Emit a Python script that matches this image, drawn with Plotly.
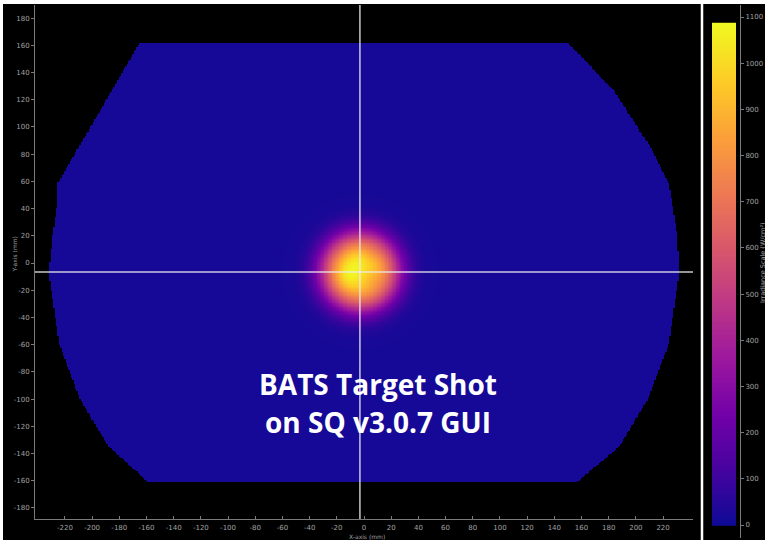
import numpy as np
import plotly.graph_objects as go

# ---------------- data ----------------
# boundary of the measured field (mm), clockwise from top-left
hull_x = [-165, 150, 185, 212, 224, 230, 232, 224, 209, 188, 157, -159, -188, -209, -224, -232, -231, -229, -226, -225]
hull_y = [162, 162, 125, 83, 59, 24, -7, -60, -100, -135, -161, -161, -135, -100, -60, -7, 0, 20, 40, 59]

background_level = 18          # W/cm^2 outside the spot
spot_center = (-3.0, -6.6)     # mm (also the crosshair position)
spot_peak = 960.0
spot_width = 29.0              # mm
spot_order = 3.0
# local hot / cold patches inside the spot: x, y, amplitude, width
bump_x = [-12, -5, 8, 6]
bump_y = [-9, 2, -14, 8]
bump_amp = [110, 60, -60, -40]
bump_w = [7, 6, 6, 5]

x_ticks = list(range(-220, 221, 20))
y_ticks = list(range(-180, 181, 20))
cb_ticks = list(range(0, 1101, 100))
cb_max = 1087

title_lines = ["BATS Target Shot", "on SQ v3.0.7 GUI"]
x_title = "X-axis (mm)"
y_title = "Y-axis (mm)"
cb_title = "Irradiance Scale (W/cm²)"

# ---------------- build grid ----------------
xs = np.arange(-240, 241, 1.0)
ys = np.arange(-190, 191, 1.0)
X, Y = np.meshgrid(xs, ys)


def inside_polygon(px, py, vx, vy):
    vx = np.asarray(vx, float)
    vy = np.asarray(vy, float)
    res = np.zeros(px.shape, bool)
    n = len(vx)
    j = n - 1
    for i in range(n):
        xi, yi, xj, yj = vx[i], vy[i], vx[j], vy[j]
        cond = ((yi > py) != (yj > py))
        with np.errstate(divide="ignore", invalid="ignore"):
            xint = (xj - xi) * (py - yi) / (yj - yi) + xi
        res ^= cond & (px < xint)
        j = i
    return res


mask = inside_polygon(X, Y, hull_x, hull_y)
R = np.hypot(X - spot_center[0], Y - spot_center[1])
profile = np.exp(-(R / spot_width) ** spot_order)
Z = background_level + spot_peak * profile
for bx, by, ba, bw in zip(bump_x, bump_y, bump_amp, bump_w):
    Z += ba * np.exp(-((X - bx) ** 2 + (Y - by) ** 2) / (2 * bw ** 2)) * profile
Z = np.where(mask, np.round(Z), np.nan)

cscale = [
    [0.0, "#0f0a96"], [0.11, "#46039f"], [0.22, "#7201a8"], [0.33, "#9c179e"],
    [0.44, "#bd3786"], [0.55, "#d8576b"], [0.66, "#ed7953"], [0.77, "#fb9f3a"],
    [0.88, "#fdca26"], [1.0, "#f0f921"],
]

cb_vals = np.arange(0, cb_max + 1, 3.0)

fig = go.Figure()
fig.add_trace(go.Heatmap(x=xs, y=ys, z=Z, colorscale=cscale, zmin=0, zmax=cb_max,
                         showscale=False, hoverongaps=False, xaxis="x", yaxis="y"))
fig.add_trace(go.Heatmap(x=[0], y=cb_vals, z=[[v] for v in cb_vals], colorscale=cscale,
                         zmin=0, zmax=cb_max, showscale=False, xaxis="x2", yaxis="y2"))

W, H = 765, 540
ml, mr, mt, mb = 35, 5, 5, 2
pw, ph = W - ml - mr, H - mt - mb


def xp(px):
    return (px - ml) / pw


def yp(py):
    return (H - mb - py) / ph


grey_line = "#7a7a7a"
grey_text = "#a0a0a0"
tick_font = dict(family="DejaVu Sans", size=7, color=grey_text)

fig.update_layout(
    width=W, height=H,
    margin=dict(l=ml, r=mr, t=mt, b=mb, autoexpand=False),
    paper_bgcolor="black", plot_bgcolor="black",
    showlegend=False,
    xaxis=dict(domain=[0, xp(693)], range=[-242, 242], anchor="y", automargin=False,
               showgrid=False, zeroline=False, showline=True, linecolor=grey_line,
               ticks="inside", ticklen=3, tickcolor=grey_line, ticklabelstandoff=2,
               tickvals=x_ticks, ticktext=[str(v) for v in x_ticks], tickfont=tick_font),
    yaxis=dict(domain=[yp(519), 1], range=[-188.1, 189.6], anchor="x", automargin=False,
               showgrid=False, zeroline=False, showline=True, linecolor=grey_line,
               ticks="outside", ticklen=3, tickcolor=grey_line,
               tickvals=y_ticks, ticktext=[str(v) for v in y_ticks], tickfont=tick_font),
    xaxis2=dict(domain=[xp(712), xp(736)], range=[-0.5, 0.5], anchor="y2", visible=False,
                automargin=False),
    yaxis2=dict(domain=[0, 1], range=[-(538 - 525) / 0.4618, 1100 + 12 / 0.4618],
                anchor="free", position=xp(740), side="right", automargin=False,
                showgrid=False, zeroline=False, showline=True, linecolor=grey_line,
                ticks="outside", ticklen=3, tickcolor=grey_line,
                tickvals=cb_ticks, ticktext=[str(v) for v in cb_ticks], tickfont=tick_font),
)

# crosshair through the spot centroid
fig.add_hline(y=spot_center[1], line=dict(color="rgba(235,235,235,0.85)", width=1.5))
fig.add_vline(x=spot_center[0], line=dict(color="rgba(235,235,235,0.85)", width=1.5))

# white frame pieces and separator
fig.add_shape(type="rect", xref="paper", yref="paper", x0=xp(-2), x1=xp(767), y0=yp(4), y1=yp(-2),
              fillcolor="white", line_width=0, layer="above")
fig.add_shape(type="rect", xref="paper", yref="paper", x0=xp(-2), x1=xp(3), y0=yp(542), y1=yp(-2),
              fillcolor="white", line_width=0, layer="above")
fig.add_shape(type="line", xref="paper", yref="paper", x0=xp(702), x1=xp(702), y0=yp(542), y1=yp(-2),
              line=dict(color="white", width=2.5), layer="above")

# axis titles
fig.add_annotation(text=x_title, xref="x", x=2, yref="paper", y=yp(536), showarrow=False,
                   yanchor="middle", font=dict(family="DejaVu Sans", size=6, color=grey_text))
fig.add_annotation(text=y_title, xref="paper", x=xp(8), yref="paper", y=yp(255), showarrow=False,
                   textangle=-90, font=dict(family="DejaVu Sans", size=6, color=grey_text))
fig.add_annotation(text=cb_title, xref="paper", x=xp(758), xanchor="left", yref="paper", y=yp(263),
                   showarrow=False, borderpad=0,
                   textangle=-90, font=dict(family="DejaVu Sans", size=6.5, color=grey_text))

# overlay title
for line_text, py in zip(title_lines, [405, 443]):
    fig.add_annotation(text="<b>" + line_text + "</b>", xref="paper", x=xp(378), yref="paper", y=yp(py),
                       showarrow=False, font=dict(family="Open Sans", size=28, color="white"))

fig.write_html("out.html", config={"displayModeBar": False},
               post_script="document.body.style.margin='0';document.body.style.overflow='hidden';")
